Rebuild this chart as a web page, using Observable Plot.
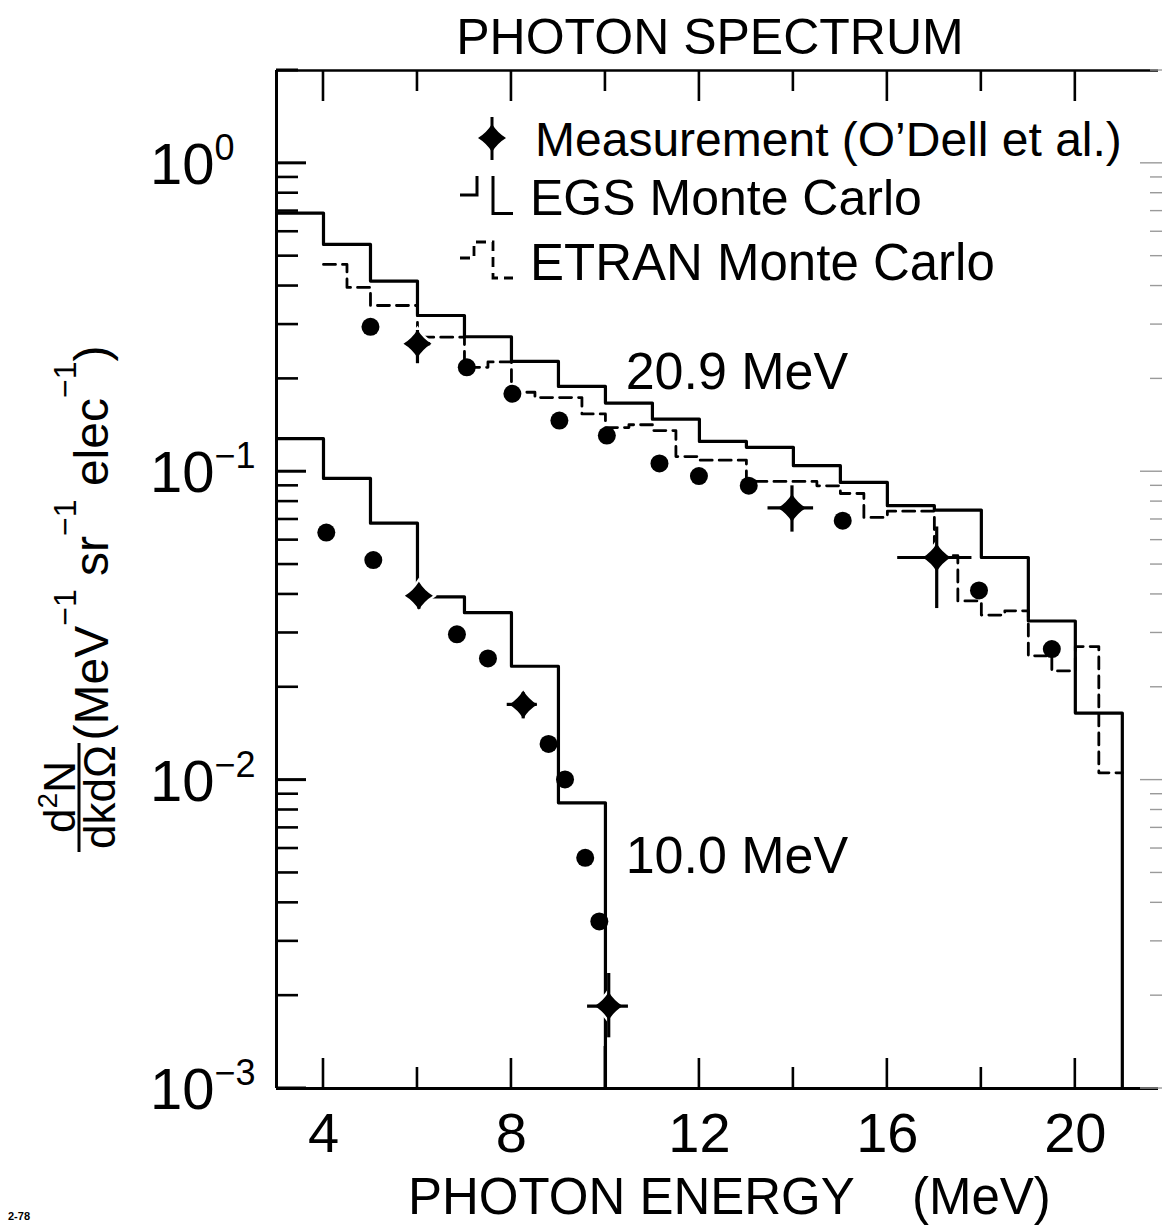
<!DOCTYPE html>
<html>
<head>
<meta charset="utf-8">
<script src="https://cdn.jsdelivr.net/npm/d3@7"></script>
<script src="https://cdn.jsdelivr.net/npm/@observablehq/plot@0.6"></script>
<style>
  body { margin: 0; background: #fff; }
  svg { display: block; }
</style>
</head>
<body>
<div id="chart"></div>
<script>
// ---------------- DATA ----------------
// EGS Monte Carlo, 20.9 MeV beam: bin left edges (MeV) and heights
const egsHighEdges  = [3, 4, 5, 6, 7, 8, 9, 10, 11, 12, 13, 14, 15, 16, 17, 18, 19, 20];
const egsHighValues = [0.69, 0.546, 0.415, 0.321, 0.274, 0.228, 0.189, 0.167, 0.148, 0.1254, 0.12, 0.1046, 0.0923, 0.0776, 0.0751, 0.0527, 0.0328, 0.0165];
const egsHighEnd = 21;

// ETRAN Monte Carlo, 20.9 MeV beam
const etranEdges  = [4, 4.5, 5, 6, 7, 7.5, 8, 8.5, 9.5, 10, 10.5, 11, 11.5, 12, 13, 14.5, 15, 15.5, 16, 17, 17.5, 18, 18.5, 19, 19.5, 20, 20.5];
const etranValues = [0.47, 0.396, 0.346, 0.273, 0.218, 0.227, 0.181, 0.174, 0.154, 0.139, 0.142, 0.136, 0.112, 0.109, 0.093, 0.090, 0.085, 0.0711, 0.0745, 0.0534, 0.0381, 0.0343, 0.0354, 0.0253, 0.0226, 0.0271, 0.01056];
const etranEnd = 21;

// EGS Monte Carlo, 10.0 MeV beam
const egsLowEdges  = [3, 4, 5, 6, 7, 8, 9];
const egsLowValues = [0.128, 0.0951, 0.0681, 0.0393, 0.0349, 0.0234, 0.00844];
const egsLowEnd = 10;

// Measurements (O'Dell et al.), 20.9 MeV
const measHighE = [5.0, 6.0, 7.05, 8.02, 9.02, 10.03, 11.15, 11.99, 13.05, 13.97, 15.05, 17.05, 17.95, 19.5];
const measHighV = [0.295, 0.26, 0.218, 0.179, 0.1465, 0.131, 0.1064, 0.0968, 0.0901, 0.0763, 0.0694, 0.0527, 0.0412, 0.0266];
const measHighErr = [false, true, false, false, false, false, false, false, false, true, false, true, false, false];
const measHighElo = [null, 5.78, null, null, null, null, null, null, null, 13.46, null, 16.22, null, null];
const measHighEhi = [null, 6.28, null, null, null, null, null, null, null, 14.43, null, 17.8, null, null];
const measHighVlo = [null, 0.224, null, null, null, null, null, null, null, 0.0637, null, 0.036, null, null];
const measHighVhi = [null, 0.287, null, null, null, null, null, null, null, 0.090, null, 0.0662, null, null];

// Measurements (O'Dell et al.), 10.0 MeV
const measLowE = [4.06, 5.06, 6.03, 6.84, 7.5, 8.25, 8.79, 9.14, 9.57, 9.87, 10.07];
const measLowV = [0.0635, 0.0517, 0.0396, 0.0297, 0.0248, 0.0176, 0.0131, 0.01005, 0.0056, 0.00348, 0.00185];
const measLowErr = [false, false, true, false, false, true, false, false, false, false, true];
const measLowElo = [null, null, 5.85, null, null, 7.91, null, null, null, null, 9.62];
const measLowEhi = [null, null, 6.2, null, null, 8.55, null, null, null, null, 10.49];
const measLowVlo = [null, null, 0.0358, null, null, 0.0158, null, null, null, null, 0.00146];
const measLowVhi = [null, null, 0.042, null, null, 0.0192, null, null, null, null, 0.00236];

// Curve labels
const curveLabels = ["20.9 MeV", "10.0 MeV"];
const curveLabelE = [10.43, 10.43];
const curveLabelV = [0.2096, 0.00566];

// Axis ticks
const xMajorTicks = [4, 6, 8, 10, 12, 14, 16, 18, 20];
const xTickLabels = [4, 8, 12, 16, 20];
const yDecades = [0, -1, -2, -3];
const yDecadeLabels = ["0", "\u22121", "\u22122", "\u22123"];

// ---------------- BUILD TABLES ----------------
function stepTable(edges, values, end, drop) {
  const t = edges.map((x, i) => ({x, y: values[i]}));
  t.push({x: end, y: values[values.length - 1]});
  if (drop) t.push({x: end, y: 1e-3});
  return t;
}
const egsHigh = stepTable(egsHighEdges, egsHighValues, egsHighEnd, true);
const egsLow = stepTable(egsLowEdges, egsLowValues, egsLowEnd, true);
const etran = stepTable(etranEdges, etranValues, etranEnd, false);

function pts(E, V, err, elo, ehi, vlo, vhi) {
  return E.map((e, i) => ({e, v: V[i], err: err[i], elo: elo[i], ehi: ehi[i], vlo: vlo[i], vhi: vhi[i]}));
}
const allPts = pts(measHighE, measHighV, measHighErr, measHighElo, measHighEhi, measHighVlo, measHighVhi)
  .concat(pts(measLowE, measLowV, measLowErr, measLowElo, measLowEhi, measLowVlo, measLowVhi));
const circles = allPts.filter(d => !d.err);
const stars = allPts.filter(d => d.err);
const labelsData = curveLabels.map((t, i) => ({t, e: curveLabelE[i], v: curveLabelV[i]}));

// 4-point concave star
const star4 = {
  draw(ctx, size) {
    const r = Math.sqrt(size / Math.PI);
    const k = r * 0.38;
    ctx.moveTo(0, -r);
    ctx.quadraticCurveTo(k, -k, r, 0);
    ctx.quadraticCurveTo(k, k, 0, r);
    ctx.quadraticCurveTo(-k, k, -r, 0);
    ctx.quadraticCurveTo(-k, -k, 0, -r);
    ctx.closePath();
  }
};

const FONT = "'Liberation Sans', Arial, Helvetica, sans-serif";
const LW = 3.2;

const plot = Plot.plot({
  width: 1162,
  height: 1226,
  marginLeft: 276,
  marginRight: 4,
  marginTop: 70,
  marginBottom: 138,
  x: {domain: [3, 21.77], label: null},
  y: {type: "log", domain: [1e-3, 2], axis: null, label: null},
  style: {fontFamily: FONT, background: "white", color: "black", overflow: "visible"},
  marks: [
    Plot.ruleX([3], {stroke: "black", strokeWidth: 3}),
    Plot.ruleY([1e-3], {stroke: "black", strokeWidth: 3}),
    Plot.ruleY([2], {stroke: "black", strokeWidth: 2.6}),
    Plot.line(egsLow, {x: "x", y: "y", curve: "step-after", stroke: "black", strokeWidth: LW}),
    Plot.line(egsHigh, {x: "x", y: "y", curve: "step-after", stroke: "black", strokeWidth: LW}),
    Plot.line(etran, {x: "x", y: "y", curve: "step-after", stroke: "black", strokeWidth: 2.8, strokeDasharray: "12,7"}),
    Plot.dot(stars, {x: "e", y: "v", symbol: star4, r: 18, fill: "white", stroke: "none"}),
    Plot.ruleX(stars, {x: "e", y1: "vlo", y2: "vhi", stroke: "black", strokeWidth: 3.2}),
    Plot.ruleY(stars, {y: "v", x1: "elo", x2: "ehi", stroke: "black", strokeWidth: 3.2}),
    Plot.dot(circles, {x: "e", y: "v", r: 9, fill: "black", stroke: "none"}),
    Plot.dot(stars, {x: "e", y: "v", symbol: star4, r: 14, fill: "black", stroke: "none"}),
    Plot.text(labelsData, {x: "e", y: "v", text: "t", textAnchor: "start", lineAnchor: "middle", fontSize: 52, fill: "black"}),
    Plot.axisX(xTickLabels, {anchor: "bottom", tickSize: 0, tickPadding: 24, fontSize: 56, label: null, tickFormat: d => String(d)})
  ]
});

document.getElementById("chart").appendChild(plot);

// ---------------- DECORATION: ticks, labels, legend ----------------
const sx = plot.scale("x"), sy = plot.scale("y");
const svg = d3.select(plot);
const x0 = sx.apply(3);
const yTop = sy.apply(2), yBot = sy.apply(1e-3);
const g = svg.append("g").attr("stroke", "black").attr("fill", "none");

// x ticks (inward), bottom and top
xMajorTicks.forEach(t => {
  const px = sx.apply(t);
  const lenB = t === 10 ? 42 : (t % 4 === 0 ? 30 : 21);
  const lenT = t % 4 === 0 ? 31 : 21;
  g.append("line").attr("x1", px).attr("x2", px).attr("y1", yBot).attr("y2", yBot - lenB).attr("stroke-width", 2.6);
  g.append("line").attr("x1", px).attr("x2", px).attr("y1", yTop).attr("y2", yTop + lenT).attr("stroke-width", 2.6);
});

// y ticks (log), left solid, right faint
for (let d = -3; d <= 0; d++) {
  for (let m = 1; m <= 9; m++) {
    const v = m * Math.pow(10, d);
    if (v < 1e-3 || v > 2) continue;
    const py = sy.apply(v);
    const major = m === 1;
    g.append("line").attr("x1", x0).attr("x2", x0 + (major ? 30 : 22)).attr("y1", py).attr("y2", py).attr("stroke-width", major ? 3 : 2.6);
    g.append("line").attr("x1", 1162).attr("x2", 1162 - (major ? 22 : 12)).attr("y1", py).attr("y2", py).attr("stroke", "#9a9a9a").attr("stroke-width", 1.4);
  }
}
{
  const py = sy.apply(2);
  g.append("line").attr("x1", x0).attr("x2", x0 + 22).attr("y1", py).attr("y2", py).attr("stroke-width", 2.6);
}

// y decade labels 10^n
const tl = svg.append("g").attr("font-family", FONT).attr("fill", "black").attr("text-anchor", "start");
yDecades.forEach((d, i) => {
  const py = sy.apply(Math.pow(10, d));
  const t = tl.append("text").attr("x", 150).attr("y", py + 21).attr("font-size", 58).attr("text-anchor", "start");
  t.append("tspan").text("10");
  t.append("tspan").attr("font-size", 36).attr("dy", -24).text(yDecadeLabels[i]);
});

// Title
tl.append("text").attr("x", 710).attr("y", 54).attr("text-anchor", "middle").attr("font-size", 50).text("PHOTON SPECTRUM");

// x axis title
tl.append("text").attr("x", 408).attr("y", 1214).attr("text-anchor", "start").attr("font-size", 51).text("PHOTON ENERGY");
tl.append("text").attr("x", 912).attr("y", 1214).attr("text-anchor", "start").attr("font-size", 51).text("(MeV)");

// y axis title (rotated)
{
  const gy = tl.append("g").attr("transform", "translate(108,543) rotate(-90)");
  const t = gy.append("text").attr("text-anchor", "middle").attr("font-size", 48);
  t.append("tspan").text("(MeV");
  t.append("tspan").attr("font-size", 32).attr("dy", -32).text("\u22121");
  t.append("tspan").attr("dy", 32).text(" sr");
  t.append("tspan").attr("font-size", 32).attr("dy", -32).text("\u22121");
  t.append("tspan").attr("dy", 32).text(" elec");
  t.append("tspan").attr("font-size", 32).attr("dy", -32).text("\u22121");
  t.append("tspan").attr("dy", 32).text(")");

  const gn = tl.append("g").attr("transform", "translate(75,797) rotate(-90)");
  const tn = gn.append("text").attr("text-anchor", "middle").attr("font-size", 44);
  tn.append("tspan").text("d");
  tn.append("tspan").attr("font-size", 28).attr("dy", -18).text("2");
  tn.append("tspan").attr("dy", 18).text("N");
  const gd = tl.append("g").attr("transform", "translate(115,797) rotate(-90)");
  gd.append("text").attr("text-anchor", "middle").attr("font-size", 44).text("dkd\u03A9");
  tl.append("line").attr("x1", 79).attr("x2", 79).attr("y1", 743).attr("y2", 852).attr("stroke", "black").attr("stroke-width", 3);
}

// Legend
{
  const lg = svg.append("g").attr("font-family", FONT).attr("text-anchor", "start");
  const p = d3.path();
  star4.draw(p, Math.PI * 14 * 14);
  lg.append("path").attr("d", p.toString()).attr("transform", "translate(492,138)").attr("fill", "black");
  lg.append("line").attr("x1", 492).attr("x2", 492).attr("y1", 117).attr("y2", 160).attr("stroke", "black").attr("stroke-width", 3);
  lg.append("text").attr("x", 535).attr("y", 156).attr("text-anchor", "start").attr("font-size", 48).text("Measurement (O\u2019Dell et al.)");

  lg.append("path").attr("d", "M460,195H477V176M493,176V213.5H513").attr("fill", "none").attr("stroke", "black").attr("stroke-width", 3);
  lg.append("text").attr("x", 530).attr("y", 215).attr("text-anchor", "start").attr("font-size", 50).text("EGS Monte Carlo");

  lg.append("path").attr("d", "M460,258H474V242H493V278H513").attr("fill", "none").attr("stroke", "black").attr("stroke-width", 2.8).attr("stroke-dasharray", "10,6");
  lg.append("text").attr("x", 530).attr("y", 280).attr("text-anchor", "start").attr("font-size", 51).text("ETRAN Monte Carlo");

  lg.append("text").attr("x", 8).attr("y", 1220).attr("text-anchor", "start").attr("font-size", 11).attr("font-weight", "bold").text("2-78");
}
</script>
</body>
</html>
